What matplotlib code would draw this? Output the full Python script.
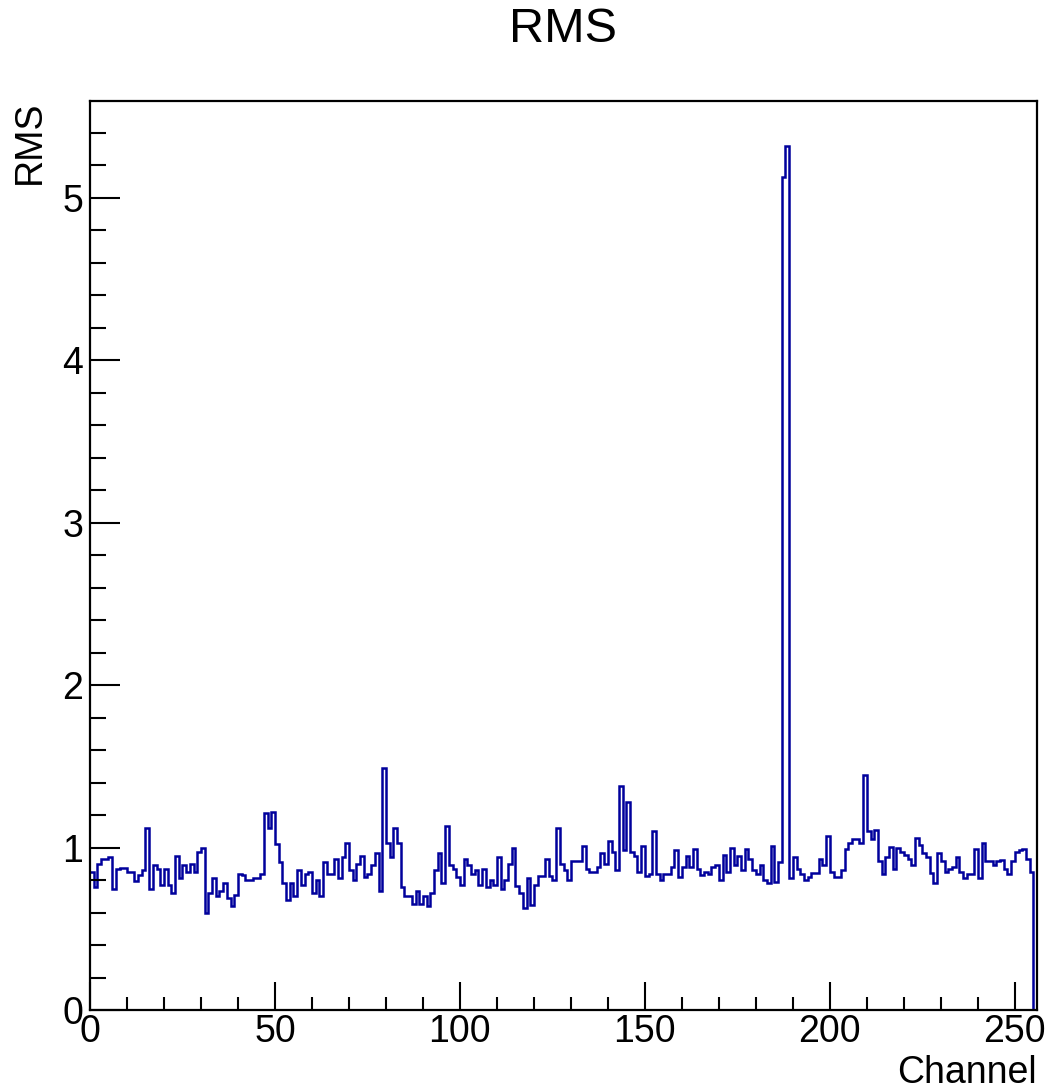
import numpy as np
import matplotlib
matplotlib.use("Agg")
import matplotlib.pyplot as plt
from matplotlib.ticker import MultipleLocator

# RMS per channel (256 channels, 4 blocks of 64)
rms_000_063 = [
    0.85, 0.76, 0.90, 0.93, 0.93, 0.94, 0.745, 0.87, 0.875, 0.875, 0.85, 0.85, 0.795, 0.83, 0.865, 1.12,
    0.745, 0.89, 0.87, 0.77, 0.87, 0.77, 0.72, 0.95, 0.815, 0.89, 0.85, 0.90, 0.85, 0.97, 1.00, 0.60,
    0.72, 0.81, 0.70, 0.73, 0.78, 0.69, 0.64, 0.71, 0.835, 0.83, 0.80, 0.80, 0.815, 0.815, 0.84, 1.21,
    1.12, 1.22, 1.02, 0.91, 0.78, 0.68, 0.78, 0.70, 0.86, 0.77, 0.835, 0.85, 0.72, 0.80, 0.70, 0.91,
]
rms_064_127 = [
    0.84, 0.84, 0.93, 0.815, 0.94, 1.03, 0.86, 0.80, 0.90, 0.95, 0.82, 0.84, 0.89, 0.965, 0.73, 1.49,
    1.03, 0.94, 1.12, 1.03, 0.76, 0.70, 0.70, 0.655, 0.735, 0.655, 0.70, 0.64, 0.72, 0.86, 0.965, 0.78,
    1.13, 0.89, 0.87, 0.82, 0.77, 0.93, 0.89, 0.84, 0.86, 0.77, 0.87, 0.76, 0.80, 0.77, 0.94, 0.745,
    0.80, 0.90, 1.00, 0.765, 0.72, 0.63, 0.81, 0.645, 0.77, 0.825, 0.825, 0.93, 0.825, 0.80, 1.12, 0.90,
]
rms_128_191 = [
    0.86, 0.80, 0.92, 0.92, 0.92, 1.01, 0.87, 0.85, 0.85, 0.88, 0.965, 0.90, 1.04, 0.975, 0.86, 1.38,
    0.985, 1.28, 0.975, 0.95, 0.85, 1.01, 0.825, 0.84, 1.10, 0.84, 0.80, 0.84, 0.84, 0.88, 0.985, 0.82,
    0.88, 0.95, 0.88, 0.99, 0.87, 0.83, 0.85, 0.84, 0.88, 0.89, 0.80, 0.955, 0.85, 1.00, 0.89, 0.95,
    0.86, 0.99, 0.93, 0.86, 0.84, 0.89, 0.80, 0.78, 1.01, 0.79, 0.91, 5.13, 5.32, 0.81, 0.94, 0.87,
]
rms_192_255 = [
    0.84, 0.80, 0.82, 0.845, 0.845, 0.93, 0.89, 1.07, 0.85, 0.82, 0.82, 0.86, 0.99, 1.03, 1.05, 1.05,
    1.03, 1.45, 1.10, 1.05, 1.11, 0.92, 0.84, 0.94, 1.005, 0.87, 1.00, 0.97, 0.955, 0.93, 0.89, 1.06,
    1.015, 0.965, 0.94, 0.845, 0.78, 0.965, 0.92, 0.85, 0.87, 0.88, 0.94, 0.85, 0.81, 0.84, 0.84, 0.99,
    0.81, 1.03, 0.915, 0.915, 0.89, 0.915, 0.925, 0.87, 0.84, 0.915, 0.975, 0.985, 0.99, 0.93, 0.85, 0.0,
]

rms = np.array(rms_000_063 + rms_064_127 + rms_128_191 + rms_192_255)
n_channels = 256
edges = np.arange(n_channels + 1)

LINE_COLOR = "#00009c"
FONT = "Liberation Sans"

plt.rcParams["font.family"] = [FONT, "DejaVu Sans"]

fig = plt.figure(figsize=(10.47, 10.92), dpi=100)
ax = fig.add_axes([90 / 1047, 1 - 1010 / 1092, 947 / 1047, 909 / 1092])

ax.stairs(rms, edges, baseline=None, color=LINE_COLOR, lw=1.8)

ax.set_xlim(0, n_channels)
ax.set_ylim(0, 5.597)

ax.xaxis.set_major_locator(MultipleLocator(50))
ax.xaxis.set_minor_locator(MultipleLocator(10))
ax.yaxis.set_major_locator(MultipleLocator(1))
ax.yaxis.set_minor_locator(MultipleLocator(0.2))

ax.tick_params(axis="both", which="both", direction="in", width=1.5, colors="black",
               top=False, right=False, labelsize=27)
ax.tick_params(axis="x", which="major", length=20, pad=3)
ax.tick_params(axis="x", which="minor", length=9.5)
ax.tick_params(axis="y", which="major", length=21.5, pad=5)
ax.tick_params(axis="y", which="minor", length=11.5)

for sp in ax.spines.values():
    sp.set_linewidth(1.6)

ax.set_xlabel("Channel", fontsize=27, loc="right")
ax.xaxis.set_label_coords(1.0, -0.049)
ax.set_ylabel("RMS", fontsize=27, loc="top")
ax.yaxis.set_label_coords(-0.045, 1.0)

fig.text(563 / 1047, 1 - 30 / 1092, "RMS", fontsize=35, ha="center", va="center")

fig.savefig("out.png", dpi=100)
